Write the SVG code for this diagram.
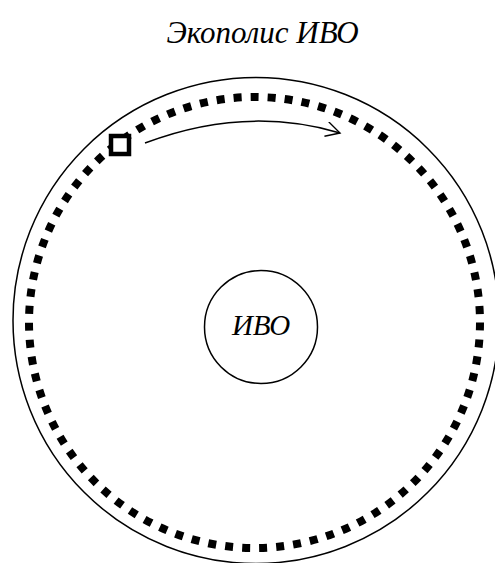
<svg xmlns="http://www.w3.org/2000/svg" width="495" height="563" viewBox="0 0 495 563">
<style>
.t{font-family:"Liberation Serif","Times New Roman",serif;font-style:italic;fill:#000}
.line{fill:none;stroke:#000;stroke-width:1.5}
</style>
<defs>
<marker id="open" markerWidth="20" markerHeight="20" refX="15" refY="7.5" orient="auto" markerUnits="userSpaceOnUse">
<path d="M1,0 L15,7.5 L1,15" fill="none" stroke="#000" stroke-width="1.4"/>
</marker>
</defs>
<rect width="495" height="563" fill="#fff"/>
<text class="t" x="262.5" y="43" font-size="31" text-anchor="middle">Экополис ИВО</text>
<g id="outer">
<circle class="line" cx="256" cy="320.5" r="243"/>
</g>
<g id="ring">
<circle cx="254.5" cy="322.5" r="225.5" fill="none" stroke="#000" stroke-width="8" stroke-dasharray="8 9.07"/>
</g>
<g id="ivo">
<circle class="line" cx="261" cy="327" r="56.5"/>
<text class="t" x="261" y="335" font-size="29" text-anchor="middle">ИВО</text>
</g>
<g id="marker-square">
<rect x="111" y="136" width="18" height="18" fill="#fff" stroke="#000" stroke-width="4.5"/>
</g>
<g id="connectors">
<path class="line" d="M145,143 Q245,105 340,133" stroke-width="1.4" marker-end="url(#open)"/>
</g>
</svg>
